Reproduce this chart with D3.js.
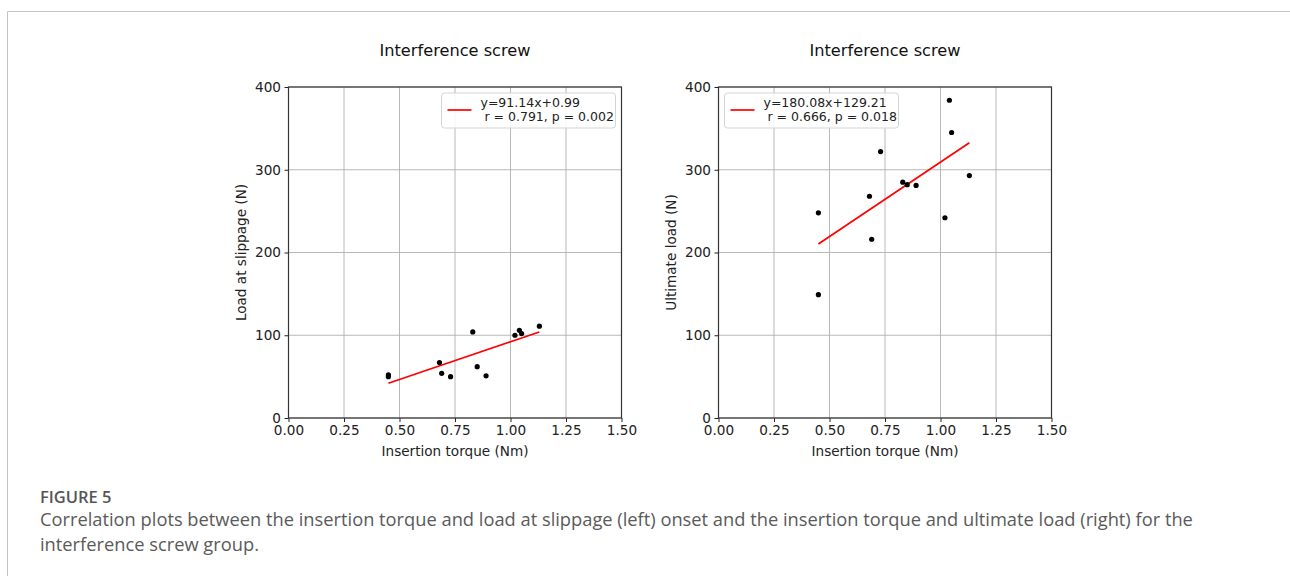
<!DOCTYPE html>
<html><head><meta charset="utf-8">
<script src="https://cdn.jsdelivr.net/npm/d3@7"></script>
<style>
body{margin:0;background:#fff;}
svg{display:block;}
</style></head>
<body>
<svg id="chart" width="1290" height="576"></svg>
<script>
// ---- data ----
const torque = [0.45, 0.45, 0.68, 0.69, 0.73, 0.83, 0.85, 0.89, 1.02, 1.04, 1.05, 1.13];
const slipLoad = [50, 52, 67, 54, 50, 104, 62, 51, 100, 106, 102, 111];
const torqueUlt = [0.45, 0.45, 0.68, 0.69, 0.73, 0.83, 0.85, 0.89, 1.02, 1.04, 1.05, 1.13];
const ultLoad = [248, 149, 268, 216, 322, 285, 282, 281, 242, 384, 345, 293];
const slipFit = [91.14, 0.99];
const ultFit = [180.08, 129.21];
const fitRange = [0.45, 1.13];
const xTicks = [0, 0.25, 0.5, 0.75, 1.0, 1.25, 1.5];
const yTicks = [0, 100, 200, 300, 400];
const titles = ["Interference screw", "Interference screw"];
const yLabels = ["Load at slippage (N)", "Ultimate load (N)"];
const xLabel = "Insertion torque (Nm)";
const legendLines = [["y=91.14x+0.99", " r = 0.791, p = 0.002"], ["y=180.08x+129.21", " r = 0.666, p = 0.018"]];
const captionTitle = "FIGURE 5";
const captionLines = ["Correlation plots between the insertion torque and load at slippage (left) onset and the insertion torque and ultimate load (right) for the", "interference screw group."];

const svg = d3.select("#chart");
// frame
svg.append("path").attr("d", "M7.5,576 V11.5 H1290").attr("fill", "none").attr("stroke", "#c4c4c4").attr("stroke-width", 1);

const font = "DejaVu Sans, sans-serif";
const panels = [
  {left: 288.5, xs: torque, ys: slipLoad, fit: slipFit, legendRight: true},
  {left: 718.5, xs: torqueUlt, ys: ultLoad, fit: ultFit, legendRight: false}
];
const W = 333, pTop = 87, pBottom = 418;

panels.forEach((p, i) => {
  const g = svg.append("g");
  const x = d3.scaleLinear().domain([0, 1.5]).range([p.left, p.left + W]);
  const y = d3.scaleLinear().domain([0, 400]).range([pBottom, pTop]);
  // grid
  g.selectAll(".gx").data(xTicks).join("line")
    .attr("x1", d => x(d)).attr("x2", d => x(d)).attr("y1", pTop).attr("y2", pBottom)
    .attr("stroke", "#b0b0b0").attr("stroke-width", 0.9);
  g.selectAll(".gy").data(yTicks).join("line")
    .attr("x1", p.left).attr("x2", p.left + W).attr("y1", d => y(d)).attr("y2", d => y(d))
    .attr("stroke", "#b0b0b0").attr("stroke-width", 0.9);
  // axes
  const xa = g.append("g").attr("transform", `translate(0,${pBottom})`)
    .call(d3.axisBottom(x).tickValues(xTicks).tickFormat(d3.format(".2f")).tickSize(4).tickPadding(3.5));
  const ya = g.append("g").attr("transform", `translate(${p.left},0)`)
    .call(d3.axisLeft(y).tickValues(yTicks).tickSize(4).tickPadding(3.5));
  [xa, ya].forEach(a => {
    a.select(".domain").remove();
    a.selectAll("text").attr("font-family", font).attr("font-size", 13.6).attr("fill", "#222");
    a.selectAll("line").attr("stroke", "#222");
  });
  // frame
  g.append("rect").attr("x", p.left).attr("y", pTop).attr("width", W).attr("height", pBottom - pTop)
    .attr("fill", "none").attr("stroke", "#333").attr("stroke-width", 1.2);
  // fit line
  g.append("line")
    .attr("x1", x(fitRange[0])).attr("y1", y(p.fit[0] * fitRange[0] + p.fit[1]))
    .attr("x2", x(fitRange[1])).attr("y2", y(p.fit[0] * fitRange[1] + p.fit[1]))
    .attr("stroke", "#ff0000").attr("stroke-width", 1.7);
  // points
  g.selectAll("circle").data(p.xs.map((v, k) => [v, p.ys[k]])).join("circle")
    .attr("cx", d => x(d[0])).attr("cy", d => y(d[1])).attr("r", 2.6).attr("fill", "#000");
  // title
  g.append("text").attr("x", p.left + W / 2).attr("y", 56).attr("text-anchor", "middle")
    .attr("font-family", font).attr("font-size", 16.2).attr("fill", "#111").text(titles[i]);
  // x label
  g.append("text").attr("x", p.left + W / 2).attr("y", 456).attr("text-anchor", "middle")
    .attr("font-family", font).attr("font-size", 13.6).attr("fill", "#222").text(xLabel);
  // y label
  g.append("text").attr("transform", `translate(${p.left - 43},${(pTop + pBottom) / 2}) rotate(-90)`)
    .attr("text-anchor", "middle").attr("font-family", font).attr("font-size", 13.6).attr("fill", "#222").text(yLabels[i]);
  // legend
  const lw = 174, lh = 35;
  const lx = p.legendRight ? p.left + W - 6 - lw : p.left + 6;
  const ly = pTop + 6;
  g.append("rect").attr("x", lx).attr("y", ly).attr("width", lw).attr("height", lh).attr("rx", 3)
    .attr("fill", "#fff").attr("fill-opacity", 0.85).attr("stroke", "#d5d5d5").attr("stroke-width", 1);
  g.append("line").attr("x1", lx + 6).attr("x2", lx + 30).attr("y1", ly + 17).attr("y2", ly + 17)
    .attr("stroke", "#ff0000").attr("stroke-width", 1.7);
  const tx = lx + 39;
  g.append("text").attr("x", tx).attr("y", ly + 14).attr("font-family", font).attr("font-size", 12.5)
    .attr("fill", "#222").style("white-space", "pre").text(legendLines[i][0]);
  g.append("text").attr("x", tx).attr("y", ly + 28).attr("font-family", font).attr("font-size", 12.5)
    .attr("fill", "#222").style("white-space", "pre").text(legendLines[i][1]);
});

// caption
const cf = "Open Sans, Noto Sans, sans-serif";
svg.append("text").attr("x", 40).attr("y", 503).attr("font-family", cf).attr("font-size", 16.5)
  .attr("font-weight", 600).attr("fill", "#555").text(captionTitle);
captionLines.forEach((t, k) => {
  svg.append("text").attr("x", 40).attr("y", 526 + k * 24.5).attr("font-family", cf).attr("font-size", 18.3)
    .attr("fill", "#5a5a5a").text(t);
});
</script>
</body></html>
